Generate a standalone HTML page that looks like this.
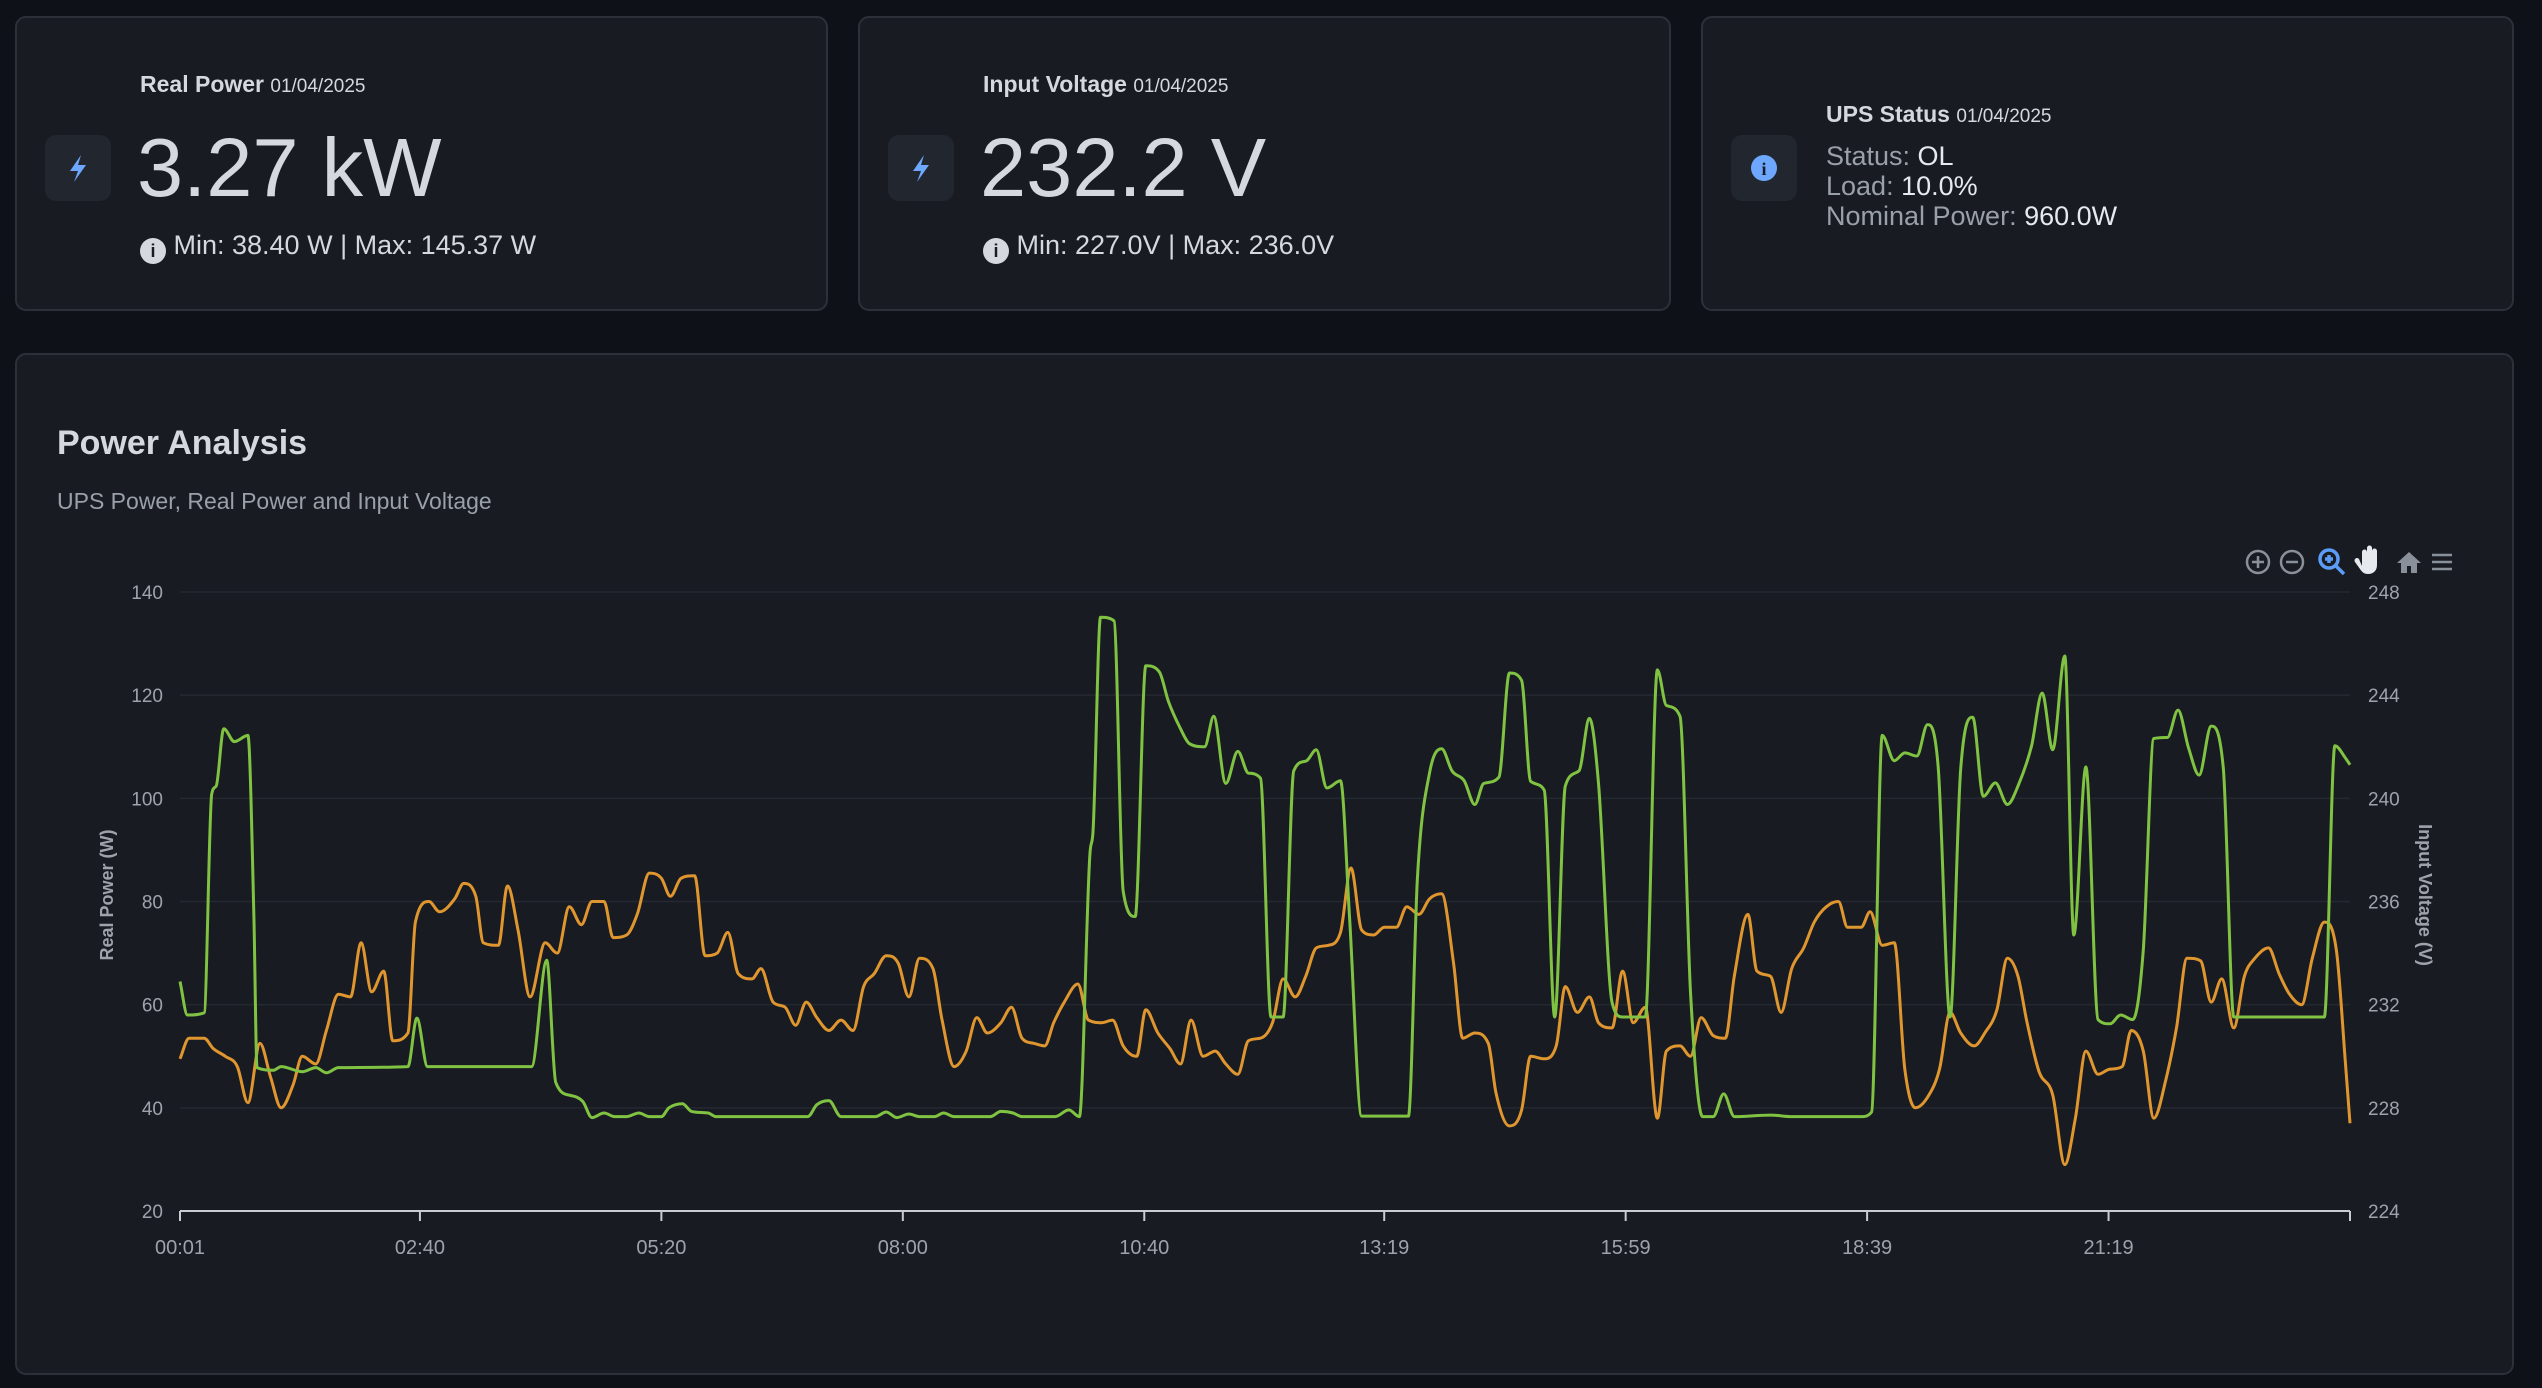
<!DOCTYPE html>
<html><head><meta charset="utf-8"><style>
html,body{margin:0;padding:0;width:2542px;height:1388px;background:#0e1117;overflow:hidden;font-family:"Liberation Sans",sans-serif;}
.card{position:absolute;background:#181b22;border:2px solid #2c3038;border-radius:11px;box-sizing:border-box;}
.icon{position:absolute;width:66px;height:66px;background:#22262e;border-radius:11px;}
.t{position:absolute;white-space:nowrap;color:#d5d9df;}
</style></head><body>
<div class="card" style="left:15px;top:16px;width:813px;height:295px;">
 <div class="icon" style="left:28px;top:117px;"><svg width="66" height="66" viewBox="0 0 66 66"><path d="M36 20 L25 36 L33 36 L29 47 L41 30 L33 30 Z" fill="#6ea8fe"/></svg></div>
 <div class="t" style="left:123px;top:53px;font-size:23px;"><b>Real Power</b> <span style="font-size:19px">01/04/2025</span></div>
 <div class="t" style="left:120px;top:102px;font-size:83px;">3.27 kW</div>
 <div class="t" style="left:123px;top:212px;font-size:27px;"><span style="display:inline-block;width:26px;height:26px;border-radius:50%;background:#d5d9df;color:#181b22;font-size:18px;text-align:center;line-height:26px;font-weight:bold;vertical-align:-3px;">i</span> Min: 38.40 W | Max: 145.37 W</div>
</div>
<div class="card" style="left:858px;top:16px;width:813px;height:295px;">
 <div class="icon" style="left:28px;top:117px;"><svg width="66" height="66" viewBox="0 0 66 66"><path d="M36 20 L25 36 L33 36 L29 47 L41 30 L33 30 Z" fill="#6ea8fe"/></svg></div>
 <div class="t" style="left:123px;top:53px;font-size:23px;"><b>Input Voltage</b> <span style="font-size:19px">01/04/2025</span></div>
 <div class="t" style="left:120px;top:102px;font-size:83px;">232.2 V</div>
 <div class="t" style="left:123px;top:212px;font-size:27px;"><span style="display:inline-block;width:26px;height:26px;border-radius:50%;background:#d5d9df;color:#181b22;font-size:18px;text-align:center;line-height:26px;font-weight:bold;vertical-align:-3px;">i</span> Min: 227.0V | Max: 236.0V</div>
</div>
<div class="card" style="left:1701px;top:16px;width:813px;height:295px;">
 <div class="icon" style="left:28px;top:117px;"><svg width="66" height="66" viewBox="0 0 66 66"><circle cx="33" cy="33" r="13" fill="#6ea8fe"/><text x="33" y="40" text-anchor="middle" font-size="18" font-weight="bold" fill="#181b22" font-family="Liberation Serif,serif">i</text></svg></div>
 <div class="t" style="left:123px;top:83px;font-size:23px;"><b>UPS Status</b> <span style="font-size:19px">01/04/2025</span></div>
 <div class="t" style="left:123px;top:123px;font-size:27px;color:#9aa0a8;">Status: <span style="color:#e6e9ed">OL</span></div>
 <div class="t" style="left:123px;top:153px;font-size:27px;color:#9aa0a8;">Load: <span style="color:#e6e9ed">10.0%</span></div>
 <div class="t" style="left:123px;top:183px;font-size:27px;color:#9aa0a8;">Nominal Power: <span style="color:#e6e9ed">960.0W</span></div>
</div>
<div class="card" style="left:15px;top:353px;width:2499px;height:1022px;"></div>
<div class="t" style="left:57px;top:424px;font-size:34px;font-weight:bold;">Power Analysis</div>
<div class="t" style="left:57px;top:488px;font-size:23px;color:#9aa0a8;">UPS Power, Real Power and Input Voltage</div>
<svg id="chart" width="2542" height="1388" style="position:absolute;left:0;top:0;" font-family="Liberation Sans, sans-serif">
 <g fill="none" stroke="#8a9099" stroke-width="2.5">
  <g><circle cx="2258" cy="562" r="11"/><path d="M2252 562h12M2258 556v12"/></g>
  <g><circle cx="2292" cy="562" r="11"/><path d="M2286 562h12"/></g>
  <g stroke="#5b9cf6" stroke-width="3.5"><circle cx="2329" cy="559" r="9"/><path d="M2336 566l8 8M2325 559h8M2329 555v8"/></g>
  <g><path d="M2362 566v-14a2.5 2.5 0 0 1 5 0v-4a2.5 2.5 0 0 1 5 0v3a2.5 2.5 0 0 1 5 0v14c0 6-4 9-9 9c-4 0-6-2-8-5l-5-7a2.5 2.5 0 0 1 4-3z" fill="#e6e9ed" stroke="none"/></g>
  <g><path d="M2397 563l12-11 12 11h-4v10h-6v-7h-4v7h-6v-10z" fill="#8a9099" stroke="none"/></g>
  <g><path d="M2432 555h20M2432 562h20M2432 569h20"/></g>
 </g>
 <g id="grid"></g><g id="axes"></g><g id="series"></g>
</svg>
<script>
const xTickMinutes=[1,160,320,480,640,799,959,1119,1279];
const xTickLabels=["00:01","02:40","05:20","08:00","10:40","13:19","15:59","18:39","21:19"];
const leftTicks=[20,40,60,80,100,120,140];
const rightTicks=[224,228,232,236,240,244,248];
const powerTimes=[1,6,17,22,25,30,37,46,50,52,63,68,82,91,98,106,152,158,165,234,244,250,260,268,274,282,289,297,305,312,320,325,334,340,351,356,359,417,423,431,439,462,469,476,484,491,501,507,514,538,545,553,559,581,590,597,604,606,611,620,626,634,641,650,656,664,670,680,686,694,702,709,717,724,732,739,747,754,761,770,776,784,815,821,829,837,844,852,859,865,875,882,890,896,905,912,919,928,935,941,950,957,972,980,986,995,1002,1010,1017,1024,1031,1055,1069,1095,1115,1122,1129,1137,1144,1152,1159,1166,1174,1181,1189,1196,1204,1212,1219,1228,1235,1242,1250,1256,1264,1272,1280,1287,1295,1302,1309,1318,1325,1332,1339,1347,1355,1362,1422,1429,1436,1439];
const powerValues=[64.5,58,58.4,100.8,102.4,113.5,111,112.2,77,47.8,47.3,48,47,47.8,46.8,47.8,48,57.4,48,48,68.6,44.9,42.4,41.2,38.1,39,38.3,38.3,39,38.3,38.3,40,40.8,39.3,39,38.3,38.3,38.3,40.6,41.4,38.3,38.3,39.2,38.1,38.8,38.3,38.3,39,38.3,38.3,39.3,39,38.3,38.3,39.6,38.3,89.4,93.5,135.1,134.4,82,77.1,125.7,124.5,118.8,113.5,110.6,110,115.9,102.9,109.1,104.9,103.9,57.6,57.6,105.3,107.2,109.4,102,103.4,77.1,38.4,38.4,84.5,104.9,109.6,105.3,103.4,98.8,102.9,104.1,124.3,122.9,103.3,101.6,57.6,102.4,105.3,115.5,102.9,60.4,57.6,57.6,124.9,118,115.9,62.4,38.3,38.3,42.7,38.3,38.6,38.3,38.3,38.3,39.2,112.2,107.3,108.8,108.2,114.3,106.5,57.6,105.7,115.7,100.4,103,98.8,102.4,110.2,120.4,109.4,127.6,73.5,106.1,57.1,56.3,58,57.1,70.6,111.6,111.8,117.1,109.8,104.5,114,106.1,57.6,57.6,110.2,107.8,106.5];
const voltageTimes=[1,7,17,23,31,39,46,54,61,68,76,82,91,98,106,114,121,128,136,142,152,157,166,173,183,189,197,202,212,218,225,233,243,251,259,267,274,282,288,297,304,312,320,326,333,342,349,357,364,371,380,386,394,402,409,416,423,431,439,447,454,461,469,477,484,491,500,506,514,522,529,536,545,552,559,567,574,580,587,596,603,612,619,626,635,641,649,657,664,671,679,687,694,702,709,717,725,732,740,747,754,762,770,777,784,792,799,807,814,822,829,837,845,851,859,868,873,882,890,896,905,913,919,927,935,941,950,957,964,972,980,986,995,1002,1009,1017,1025,1031,1040,1046,1055,1062,1069,1077,1084,1092,1100,1106,1115,1121,1129,1137,1144,1151,1160,1167,1174,1181,1190,1197,1205,1212,1219,1225,1233,1242,1250,1257,1264,1272,1280,1288,1294,1302,1309,1317,1324,1331,1340,1347,1354,1362,1369,1376,1385,1392,1399,1407,1414,1422,1430,1436,1439];
const voltageValues=[229.9,230.7,230.7,230.3,230,229.6,228.2,230.5,229.2,228,228.9,230,229.7,231,232.4,232.3,234.4,232.5,233.3,230.6,230.9,235.2,236,235.6,236.1,236.7,236.2,234.4,234.3,236.6,234.9,232.3,234.4,234,235.8,235.1,236,236,234.6,234.7,235.5,237.1,236.9,236.2,236.9,237,233.9,234,234.8,233.2,233,233.4,232.1,231.9,231.2,232.1,231.5,231,231.4,231,232.7,233.2,233.9,233.6,232.3,233.8,233.4,231.4,229.6,230.2,231.5,230.9,231.3,231.9,230.7,230.5,230.4,231.3,232.1,232.8,231.4,231.3,231.4,230.4,230,231.8,230.9,230.3,229.7,231.4,230,230.2,229.7,229.3,230.6,230.7,231.3,233,232.3,233.1,234.2,234.3,234.8,237.3,234.9,234.7,235,235,235.8,235.5,236.1,236.3,233.6,230.7,230.9,230.5,228.6,227.3,227.9,230,229.9,230.4,232.7,231.7,232.3,231.3,231.1,233.3,231.3,231.9,227.6,230.2,230.4,230,231.5,230.8,230.7,233.1,235.5,233.3,233.1,231.7,233.4,234.2,235.2,235.8,236,235,235,235.6,234.3,234.4,229.5,228,228.5,229.5,231.7,230.9,230.4,230.9,231.8,233.8,233.1,231.3,229.4,228.5,225.8,227.6,230.2,229.3,229.5,229.6,231,230.2,227.6,229.1,231.1,233.8,233.7,232.1,233,231.1,233.1,233.8,234.2,233.2,232.4,232,233.8,235.2,234.1,229.7,227.4];

const NS="http://www.w3.org/2000/svg";
const X0=180,X1=2350,YT=592,YB=1211;
const xScale=m=>X0+(m-1)/(1439-1)*(X1-X0);
const yL=v=>YB-(v-20)/(140-20)*(YB-YT);
const yR=v=>YB-(v-224)/(248-224)*(YB-YT);
function mk(tag,attrs,parent){const e=document.createElementNS(NS,tag);for(const k in attrs)e.setAttribute(k,attrs[k]);parent.appendChild(e);return e;}
const grid=document.getElementById('grid'),axes=document.getElementById('axes'),series=document.getElementById('series');
leftTicks.forEach((v,i)=>{
  const y=yL(v);
  const g=mk('line',{x1:X0,x2:X1,y1:y,y2:y,stroke:'#242831','stroke-width':1.5},grid);
  
  
  const t=mk('text',{x:163,y:y+7,'text-anchor':'end','font-size':19,fill:'#9ea3ab'},axes);t.textContent=v;
  
  
});
rightTicks.forEach(v=>{
  const y=yR(v);
  const t=mk('text',{x:2368,y:y+7,'text-anchor':'start','font-size':19,fill:'#9ea3ab'},axes);t.textContent=v;
  
  
});
const ax=mk('line',{x1:X0,x2:X1,y1:YB,y2:YB,stroke:'#c9ccd1','stroke-width':2},axes);


xTickMinutes.forEach((m,i)=>{
  const x=xScale(m);
  const tk=mk('line',{x1:x,x2:x,y1:YB,y2:YB+10,stroke:'#c9ccd1','stroke-width':2},axes);
  
  
  const t=mk('text',{x:x,y:1254,'text-anchor':'middle','font-size':20,fill:'#9ea3ab'},axes);t.textContent=xTickLabels[i];
  
  
});
const et=mk('line',{x1:X1,x2:X1,y1:YB,y2:YB+10,stroke:'#c9ccd1','stroke-width':2},axes);


const lt=mk('text',{x:0,y:0,'text-anchor':'middle','font-size':18,'font-weight':'bold',fill:'#9ea3ab',transform:'translate(113,895) rotate(-90)'},axes);lt.textContent='Real Power (W)';


const rt=mk('text',{x:0,y:0,'text-anchor':'middle','font-size':18,'font-weight':'bold',fill:'#9ea3ab',transform:'translate(2419,895) rotate(90)'},axes);rt.textContent='Input Voltage (V)';


function monotonePath(px,py){
  const n=px.length,d=[],m=[];
  for(let i=0;i<n-1;i++)d.push((py[i+1]-py[i])/(px[i+1]-px[i]));
  m[0]=d[0];m[n-1]=d[n-2];
  for(let i=1;i<n-1;i++){m[i]=(d[i-1]*d[i]<=0)?0:(d[i-1]+d[i])/2;}
  for(let i=0;i<n-1;i++){if(d[i]===0){m[i]=0;m[i+1]=0;continue;}const a=m[i]/d[i],b=m[i+1]/d[i],s=a*a+b*b;if(s>9){const t=3/Math.sqrt(s);m[i]=t*a*d[i];m[i+1]=t*b*d[i];}}
  let p='M'+px[0].toFixed(1)+','+py[0].toFixed(1);
  for(let i=0;i<n-1;i++){const h=(px[i+1]-px[i])/3;p+=' C'+(px[i]+h).toFixed(1)+','+(py[i]+m[i]*h).toFixed(1)+' '+(px[i+1]-h).toFixed(1)+','+(py[i+1]-m[i+1]*h).toFixed(1)+' '+px[i+1].toFixed(1)+','+py[i+1].toFixed(1);}
  return p;
}
const vp=mk('path',{d:monotonePath(voltageTimes.map(xScale),voltageValues.map(yR)),fill:'none',stroke:'#e0962f','stroke-width':3,'stroke-linejoin':'round'},series);


const pp=mk('path',{d:monotonePath(powerTimes.map(xScale),powerValues.map(yL)),fill:'none',stroke:'#80c241','stroke-width':3,'stroke-linejoin':'round'},series);


</script>
</body></html>
